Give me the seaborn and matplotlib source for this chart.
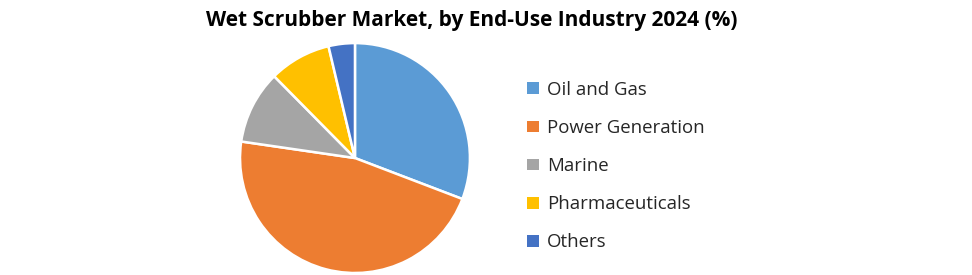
import matplotlib
matplotlib.use("Agg")
import matplotlib.pyplot as plt
from matplotlib.patches import Patch
import seaborn as sns

categories = ["Oil and Gas", "Power Generation", "Marine", "Pharmaceuticals", "Others"]
shares = [30.8, 46.5, 10.3, 8.7, 3.7]
colors = ["#5B9BD5", "#ED7D31", "#A5A5A5", "#FFC000", "#4472C4"]
title = "Wet Scrubber Market, by End-Use Industry 2024 (%)"

sns.set_theme(style="white")
plt.rcParams['font.family'] = ['Open Sans', 'DejaVu Sans']

fig = plt.figure(figsize=(9.72, 2.75), dpi=100)
ax = fig.add_axes([0.2469, 0.0073, 0.2366, 0.836])
wedges, _ = ax.pie(shares, colors=colors, startangle=90, counterclock=False,
                   radius=1.0, wedgeprops=dict(edgecolor="white", linewidth=1.8))
ax.set_xlim(-1, 1)
ax.set_ylim(-1, 1)
ax.set_aspect("equal")
ax.axis("off")

fig.text(0.485, 0.925, title, ha="center", va="center", fontsize=15,
         fontweight="bold", color="black")

handles = [Patch(facecolor=c, edgecolor="none") for c in colors]
leg = fig.legend(handles, categories, loc="center left", bbox_to_anchor=(0.535, 0.396),
                 frameon=False, fontsize=13.4, handlelength=0.6, handleheight=0.6,
                 handletextpad=0.45, labelspacing=1.08, borderaxespad=0)
for t in leg.get_texts():
    t.set_color("#262626")

fig.savefig("out.png", dpi=100, facecolor="white")
